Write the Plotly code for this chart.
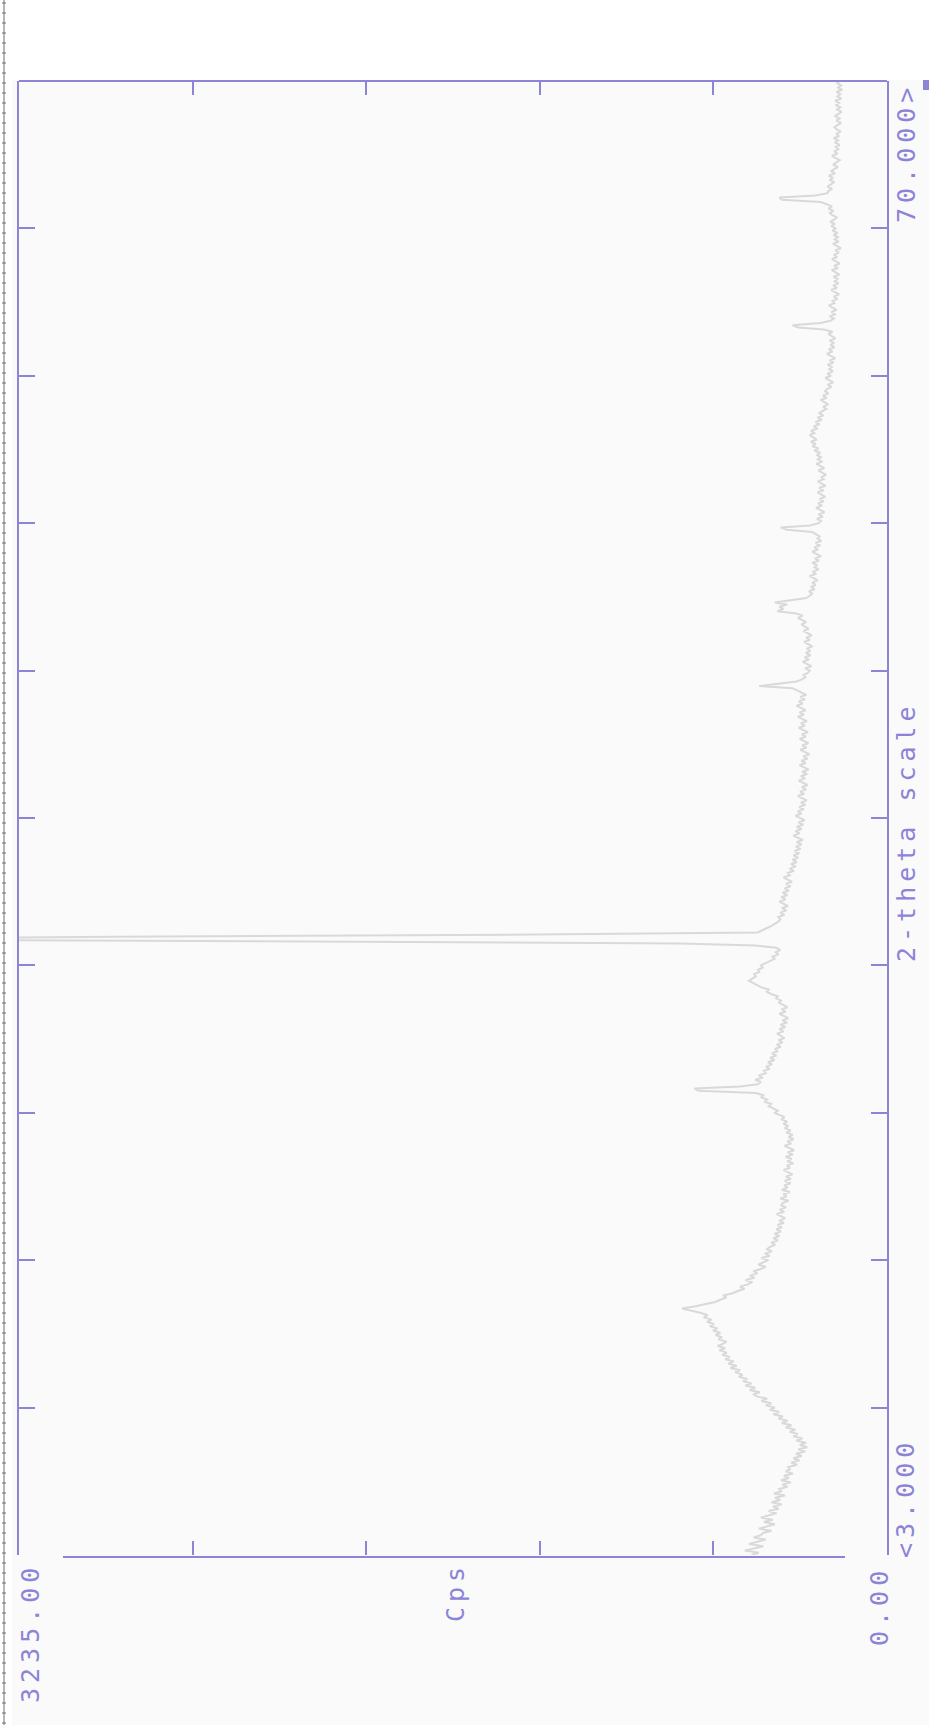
import plotly.graph_objects as go

# Scan definition: start angle and step width (degrees 2-theta)
TWO_THETA_START = 3.0
TWO_THETA_STEP = 0.1

# Measured counts per second, one row per degree (x.0 ... x.9)
CPS = [
    505, 478, 530, 492, 461, 515, 488, 452, 497, 470,   # 3
    462, 431, 478, 445, 418, 459, 426, 470, 437, 412,   # 4
    441, 404, 425, 392, 430, 398, 417, 380, 421, 395,   # 5
    402, 371, 390, 358, 395, 366, 384, 350, 377, 362,   # 6
    368, 335, 357, 326, 349, 318, 339, 305, 331, 297,   # 7
    325, 302, 338, 315, 349, 333, 362, 341, 377, 356,   # 8
    392, 371, 405, 388, 424, 402, 437, 418, 452, 431,   # 9
    468, 447, 482, 499, 474, 512, 491, 528, 505, 537,   # 10
    521, 552, 538, 566, 547, 584, 560, 592, 571, 603,   # 11
    586, 614, 597, 625, 603, 631, 612, 598, 628, 615,   # 12
    639, 621, 648, 632, 660, 645, 671, 654, 683, 668,   # 13
    692, 727, 764, 718, 671, 640, 622, 598, 611, 575,   # 14
    556, 531, 548, 519, 502, 527, 494, 511, 483, 498,   # 15
    471, 452, 480, 459, 442, 468, 437, 455, 429, 447,   # 16
    438, 417, 431, 406, 424, 401, 419, 395, 413, 392,   # 17
    408, 384, 402, 379, 397, 411, 383, 400, 376, 394,   # 18
    389, 367, 398, 374, 386, 362, 392, 370, 383, 359,   # 19
    381, 358, 377, 352, 369, 385, 361, 374, 349, 372,   # 20
    356, 378, 351, 370, 346, 364, 382, 357, 371, 348,   # 21
    367, 352, 375, 359, 381, 368, 386, 372, 394, 382,   # 22
    401, 418, 407, 426, 441, 432, 455, 447, 468, 461,   # 23
    489, 702, 718, 548, 482, 470, 491, 463, 478, 452,   # 24
    459, 437, 451, 428, 444, 419, 436, 412, 429, 407,   # 25
    418, 396, 411, 389, 405, 382, 399, 410, 386, 401,   # 26
    379, 397, 372, 390, 368, 385, 401, 377, 393, 371,   # 27
    388, 402, 395, 413, 407, 432, 448, 441, 468, 482,   # 28
    497, 514, 502, 489, 495, 476, 481, 463, 470, 451,   # 29
    438, 419, 427, 404, 415, 398, 412, 488, 771, 2580,  # 30
    4100, 2880, 1310, 482, 461, 447, 430, 418, 404, 397,  # 31
    405, 382, 398, 375, 392, 369, 386, 401, 378, 394,   # 32
    371, 389, 366, 382, 359, 377, 354, 371, 386, 362,   # 33
    369, 347, 363, 340, 358, 336, 352, 331, 349, 327,   # 34
    344, 322, 340, 318, 337, 314, 333, 349, 326, 341,   # 35
    318, 336, 312, 330, 307, 326, 341, 319, 333, 310,   # 36
    327, 304, 321, 299, 316, 332, 309, 324, 301, 318,   # 37
    296, 314, 329, 305, 321, 298, 316, 292, 310, 326,   # 38
    303, 319, 296, 312, 289, 307, 323, 300, 316, 293,   # 39
    309, 325, 302, 318, 295, 313, 329, 306, 321, 299,   # 40
    316, 332, 309, 326, 303, 321, 337, 314, 329, 306,   # 41
    323, 301, 318, 329, 352, 476, 409, 338, 317, 304,   # 42
    311, 295, 288, 305, 282, 299, 314, 291, 307, 285,   # 43
    302, 286, 299, 278, 294, 309, 287, 301, 280, 296,   # 44
    311, 292, 307, 319, 301, 318, 332, 314, 338, 409,   # 45
    386, 401, 372, 418, 356, 301, 288, 279, 291, 270,   # 46
    284, 266, 279, 259, 273, 288, 264, 277, 255, 270,   # 47
    262, 278, 253, 269, 246, 263, 279, 257, 271, 249,   # 48
    266, 244, 259, 251, 268, 279, 372, 396, 287, 254,   # 49
    246, 261, 239, 255, 233, 249, 264, 242, 257, 236,   # 50
    251, 230, 246, 259, 237, 253, 229, 244, 258, 236,   # 51
    244, 227, 241, 256, 234, 249, 263, 241, 258, 246,   # 52
    262, 249, 271, 255, 278, 266, 284, 262, 277, 288,   # 53
    271, 283, 259, 274, 251, 266, 243, 259, 237, 252,   # 54
    241, 226, 238, 219, 233, 247, 225, 239, 218, 231,   # 55
    224, 207, 221, 200, 216, 230, 209, 222, 201, 215,   # 56
    206, 221, 199, 214, 193, 209, 224, 203, 217, 196,   # 57
    211, 197, 214, 192, 208, 219, 203, 236, 331, 352,   # 58
    248, 211, 198, 213, 192, 207, 188, 202, 217, 196,   # 59
    203, 185, 199, 178, 194, 208, 186, 200, 181, 195,   # 60
    184, 199, 177, 193, 206, 183, 197, 176, 191, 205,   # 61
    186, 198, 179, 193, 172, 188, 201, 180, 195, 183,   # 62
    199, 184, 203, 190, 208, 194, 211, 198, 186, 204,   # 63
    213, 199, 218, 205, 224, 246, 392, 401, 268, 221,   # 64
    219, 204, 222, 208, 196, 214, 201, 217, 193, 209,   # 65
    198, 183, 201, 187, 176, 192, 205, 184, 197, 179,   # 66
    191, 176, 194, 182, 199, 178, 190, 172, 187, 196,   # 67
    183, 171, 189, 177, 194, 180, 169, 186, 174, 191,   # 68
    178, 193, 170, 185, 174, 188, 167, 182, 171, 186,   # 69
    176,                                                # 70
]

CPS_MAX = 3235.0
CPS_TICKS = [647, 1294, 1941, 2588]
TWO_THETA_RANGE = [3.0, 70.0]
TWO_THETA_TICKS = [9.7, 16.4, 23.1, 29.8, 36.5, 43.2, 49.9, 56.6, 63.3]

two_theta = [round(TWO_THETA_START + i * TWO_THETA_STEP, 2) for i in range(len(CPS))]

INK = "#8b84d7"
TRACE = "#d9d9d9"
PANEL = "#fafafa"
MONO = "DejaVu Sans Mono"

W, H = 929, 1725
L, R, T, B = 19, 887, 81, 1555   # plot area edges in pixels


def fx(px):
    return (px - L) / (R - L)


def fy(py):
    return (B - py) / (B - T)


fig = go.Figure()
fig.add_trace(go.Scatter(
    x=CPS, y=two_theta, mode="lines",
    line=dict(color=TRACE, width=2),
    hoverinfo="skip", showlegend=False,
))

shapes = []
# page panel behind the frame
shapes.append(dict(type="rect", xref="paper", yref="paper", layer="below",
                   x0=fx(12), x1=fx(W + 5), y0=fy(80), y1=fy(H + 5),
                   fillcolor=PANEL, line=dict(width=0)))
# top edge of the frame
shapes.append(dict(type="line", xref="paper", yref="paper",
                   x0=0, x1=1, y0=1, y1=1, line=dict(color=INK, width=2)))
# intensity baseline
shapes.append(dict(type="line", xref="paper", yref="paper",
                   x0=fx(63), x1=fx(845), y0=fy(1557), y1=fy(1557),
                   line=dict(color=INK, width=2)))
# small marker at the upper right
shapes.append(dict(type="rect", xref="paper", yref="paper",
                   x0=fx(923), x1=fx(W + 2), y0=fy(80), y1=fy(90),
                   fillcolor=INK, line=dict(width=0)))
# ruler along the left border
shapes.append(dict(type="line", xref="paper", yref="paper",
                   x0=fx(4), x1=fx(4), y0=fy(0), y1=fy(H),
                   line=dict(color="#6e6e6e", width=1)))
ruler = "".join(f"M{fx(2)},{fy(py)} L{fx(6)},{fy(py)} " for py in range(3, H, 10))
shapes.append(dict(type="path", xref="paper", yref="paper", path=ruler,
                   line=dict(color="#6e6e6e", width=1)))

label_font = dict(family=MONO, size=25, color=INK)


def spaced(txt):
    return f'<span style="letter-spacing:5px">{txt}</span>'


annotations = []
for txt, cx, cy in [
    ("3235.00", 30, 1633),
    ("Cps", 455, 1592),
    ("0.00", 879, 1606),
    ("&lt;3.000", 905, 1498),
    ("70.000&gt;", 906, 153),
    ("2-theta scale", 906, 832),
]:
    annotations.append(dict(
        text=spaced(txt), x=fx(cx), y=fy(cy), xref="paper", yref="paper",
        xanchor="center", yanchor="middle", textangle=-90,
        showarrow=False, font=label_font,
    ))

fig.update_layout(
    width=W, height=H,
    margin=dict(l=L, r=W - R, t=T, b=H - B, pad=0),
    paper_bgcolor="#ffffff",
    plot_bgcolor=PANEL,
    shapes=shapes,
    annotations=annotations,
    xaxis=dict(
        range=[CPS_MAX, 0], tickvals=CPS_TICKS, showticklabels=False,
        ticks="inside", ticklen=14, tickwidth=2, tickcolor=INK,
        mirror="ticks", showline=False, showgrid=False, zeroline=False,
        fixedrange=True,
    ),
    yaxis=dict(
        range=TWO_THETA_RANGE, tickvals=TWO_THETA_TICKS, showticklabels=False,
        ticks="inside", ticklen=16, tickwidth=2, tickcolor=INK,
        showline=True, linecolor=INK, linewidth=2, mirror="ticks",
        showgrid=False, zeroline=False, fixedrange=True,
    ),
)

fig.write_html("out.html")
